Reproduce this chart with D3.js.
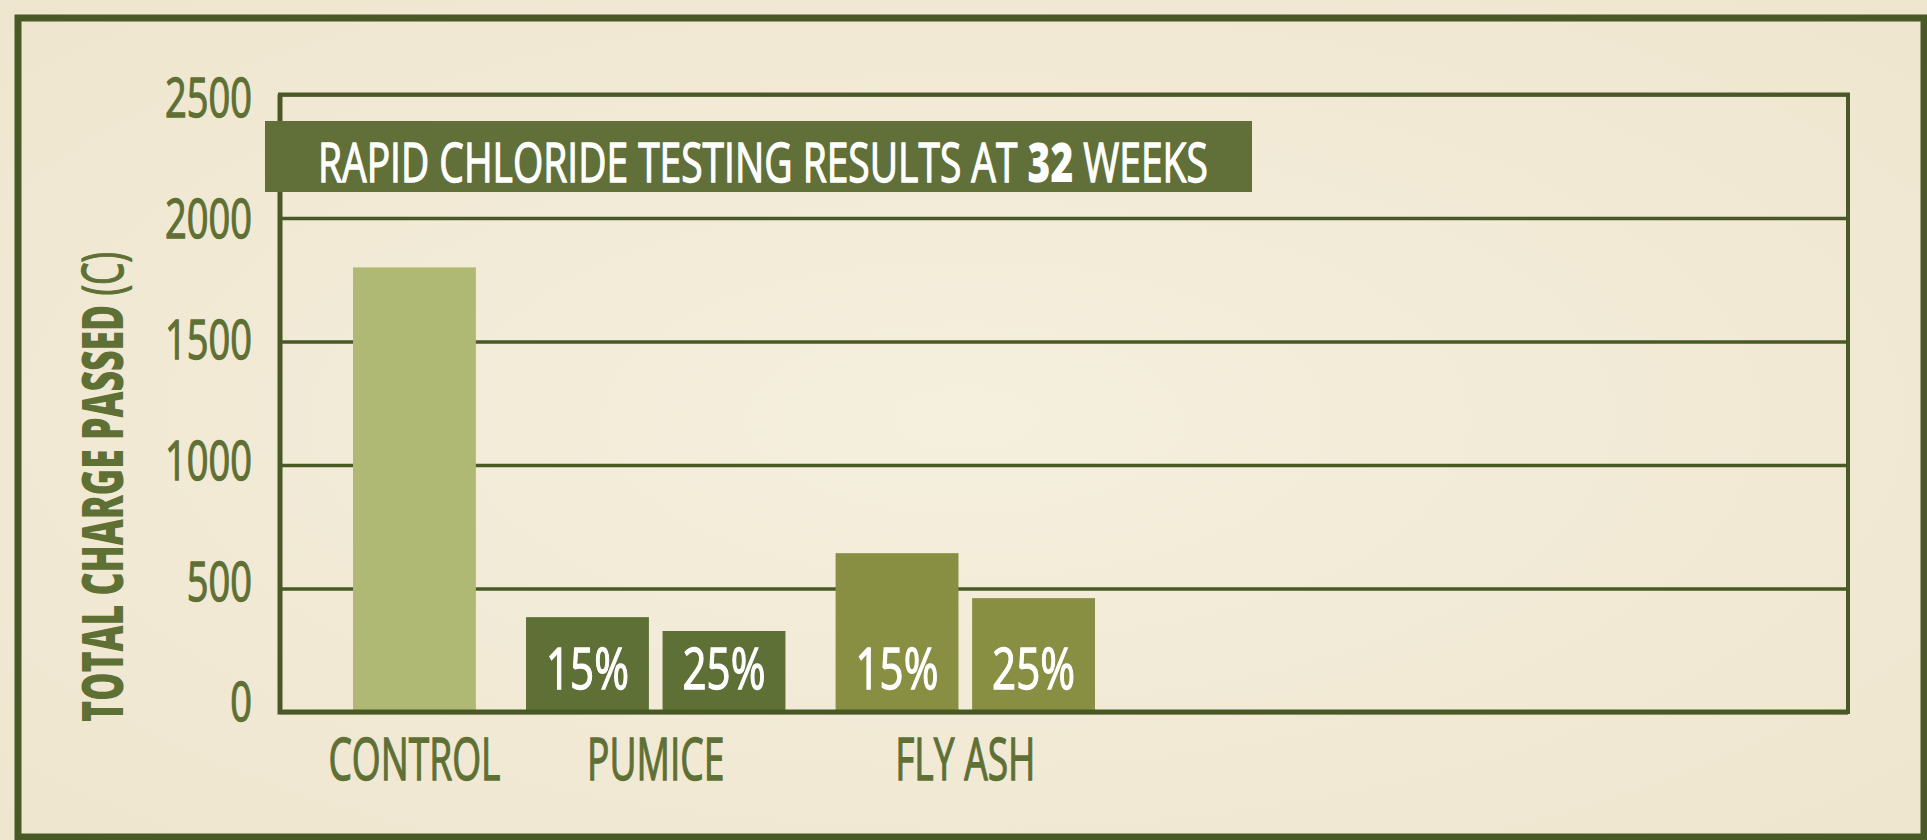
<!DOCTYPE html>
<html>
<head>
<meta charset="utf-8">
<script src="https://cdn.jsdelivr.net/npm/d3@7"></script>
<style>
  html, body { margin: 0; padding: 0; background: #f2ead5; }
  svg { display: block; }
</style>
</head>
<body>
<svg id="chart" width="1927" height="840"></svg>
<script>
// data
const groups = ["CONTROL", "PUMICE", "FLY ASH"];
const barGroup = ["CONTROL", "PUMICE", "PUMICE", "FLY ASH", "FLY ASH"];
const barLabel = ["", "15%", "25%", "15%", "25%"];
const barValue = [1800, 384, 328, 643, 461];
const yTicks = [0, 500, 1000, 1500, 2000, 2500];
const titleParts = [["RAPID CHLORIDE TESTING RESULTS AT ", false], ["32", true], [" WEEKS", false]];
const yTitleParts = [["TOTAL CHARGE PASSED ", true], ["(C)", false]];

const groupColor = { "CONTROL": "#afb973", "PUMICE": "#5f7036", "FLY ASH": "#898f42" };
const dark = "#485926", textGreen = "#5f7035";
const font = "'Open Sans', 'Noto Sans', sans-serif";
const regular = 400, heavy = 800, thicken = 1.3;

const W = 1927, H = 840;
const svg = d3.select("#chart");

// squeeze text horizontally so it looks like a condensed face
function condense(sel, refText, refWidth) {
  const probe = svg.append("text").attr("font-family", font)
    .attr("font-size", sel.attr("font-size")).attr("font-weight", sel.attr("font-weight"))
    .text(refText);
  const f = refWidth / probe.node().getComputedTextLength();
  probe.remove();
  sel.each(function () {
    const t = d3.select(this);
    const x = +t.attr("x") || 0;
    t.attr("transform", `translate(${x},0) scale(${f},1) translate(${-x},0)`);
  });
}

// background
const defs = svg.append("defs");
const grad = defs.append("radialGradient").attr("id", "paper").attr("cx", "50%").attr("cy", "50%").attr("r", "75%");
grad.append("stop").attr("offset", "0%").attr("stop-color", "#f5efde");
grad.append("stop").attr("offset", "100%").attr("stop-color", "#eee5cd");
svg.append("rect").attr("width", W).attr("height", H).attr("fill", "url(#paper)");

// outer frame
svg.append("rect").attr("x", 18).attr("y", 18).attr("width", 1906).attr("height", 819)
  .attr("fill", "none").attr("stroke", dark).attr("stroke-width", 7);

const plot = { left: 280, right: 1848, top: 94.5, bottom: 712 };

const y = d3.scaleLinear().domain([0, 2500]).range([plot.bottom, plot.top]);
// label positions in the reference sit on a slightly tighter spacing
const yLab = d3.scaleLinear().domain([0, 2500]).range([702, 98]);

const x = d3.scaleBand().domain(d3.range(barValue.length))
  .range([353, 1022]).paddingInner(0.1).paddingOuter(0);
const groupGap = 36.5;
const barX = i => x(i) + groups.indexOf(barGroup[i]) * groupGap;

// gridlines
svg.append("g")
  .attr("transform", `translate(${plot.left},0)`)
  .call(d3.axisLeft(y).tickValues(yTicks).tickSize(-(plot.right - plot.left)).tickFormat(""))
  .call(g => g.select(".domain").remove())
  .call(g => g.selectAll("line").attr("stroke", dark).attr("stroke-width", 3.5));

// bars
svg.append("g").selectAll("rect")
  .data(barValue)
  .join("rect")
  .attr("x", (d, i) => barX(i))
  .attr("y", d => y(d))
  .attr("width", x.bandwidth())
  .attr("height", d => y(0) - y(d))
  .attr("fill", (d, i) => groupColor[barGroup[i]]);

// plot border
svg.append("rect")
  .attr("x", plot.left).attr("y", plot.top)
  .attr("width", plot.right - plot.left).attr("height", plot.bottom - plot.top)
  .attr("fill", "none").attr("stroke", dark).attr("stroke-width", 4);
svg.append("path")
  .attr("d", d3.line()([[plot.left, plot.top], [plot.left, plot.bottom], [plot.right, plot.bottom]]))
  .attr("fill", "none").attr("stroke", dark).attr("stroke-width", 5);

// percentage labels inside bars
const pct = svg.append("g").selectAll("text")
  .data(barValue.map((d, i) => i).filter(i => barLabel[i]))
  .join("text")
  .attr("x", i => barX(i) + x.bandwidth() / 2)
  .attr("y", y(0) - 23)
  .attr("text-anchor", "middle")
  .attr("font-family", font).attr("font-size", 57).attr("font-weight", regular)
  .attr("fill", "#ffffff").attr("stroke", "#ffffff").attr("stroke-width", thicken)
  .text(i => barLabel[i]);
condense(pct, "15%", 83);

// y tick labels
const ticks = svg.append("g").selectAll("text")
  .data(yTicks)
  .join("text")
  .attr("x", 252)
  .attr("y", d => yLab(d) + 19.5)
  .attr("text-anchor", "end")
  .attr("font-family", font).attr("font-size", 54.5).attr("font-weight", regular)
  .attr("fill", textGreen).attr("stroke", textGreen).attr("stroke-width", thicken)
  .text(d => d);
condense(ticks, "2500", 87);

// category labels
const groupCenter = g => {
  const idx = d3.range(barValue.length).filter(i => barGroup[i] === g);
  return (barX(idx[0]) + barX(idx[idx.length - 1]) + x.bandwidth()) / 2;
};
const cats = svg.append("g").selectAll("text")
  .data(groups)
  .join("text")
  .attr("x", d => groupCenter(d))
  .attr("y", 780)
  .attr("text-anchor", "middle")
  .attr("font-family", font).attr("font-size", 59).attr("font-weight", regular)
  .attr("fill", textGreen).attr("stroke", textGreen).attr("stroke-width", thicken)
  .text(d => d);
condense(cats, "CONTROL", 172);

// y axis title
const yTitleG = svg.append("g").attr("transform", "translate(123,487) rotate(-90)");
const yTitle = yTitleG.append("text")
  .attr("x", 0).attr("y", 0)
  .attr("text-anchor", "middle")
  .attr("font-family", font).attr("font-size", 56)
  .attr("fill", textGreen);
yTitle.selectAll("tspan").data(yTitleParts).join("tspan")
  .attr("font-weight", d => d[1] ? heavy : regular)
  .attr("stroke", d => d[1] ? null : textGreen).attr("stroke-width", thicken)
  .text(d => d[0]);
{
  const w = yTitle.node().getComputedTextLength();
  yTitle.attr("transform", `scale(${470 / w},1)`);
}

// title box
svg.append("rect").attr("x", 265).attr("y", 121).attr("width", 987).attr("height", 71)
  .attr("fill", "#617038");
const title = svg.append("text")
  .attr("x", 318).attr("y", 182)
  .attr("font-family", font).attr("font-size", 54.5)
  .attr("fill", "#ffffff");
title.selectAll("tspan").data(titleParts).join("tspan")
  .attr("font-weight", d => d[1] ? heavy : regular)
  .attr("stroke", d => d[1] ? null : "#ffffff").attr("stroke-width", thicken)
  .style("white-space", "pre")
  .text(d => d[0]);
{
  const w = title.node().getComputedTextLength();
  title.attr("transform", `translate(318,0) scale(${890 / w},1) translate(-318,0)`);
}
</script>
</body>
</html>
